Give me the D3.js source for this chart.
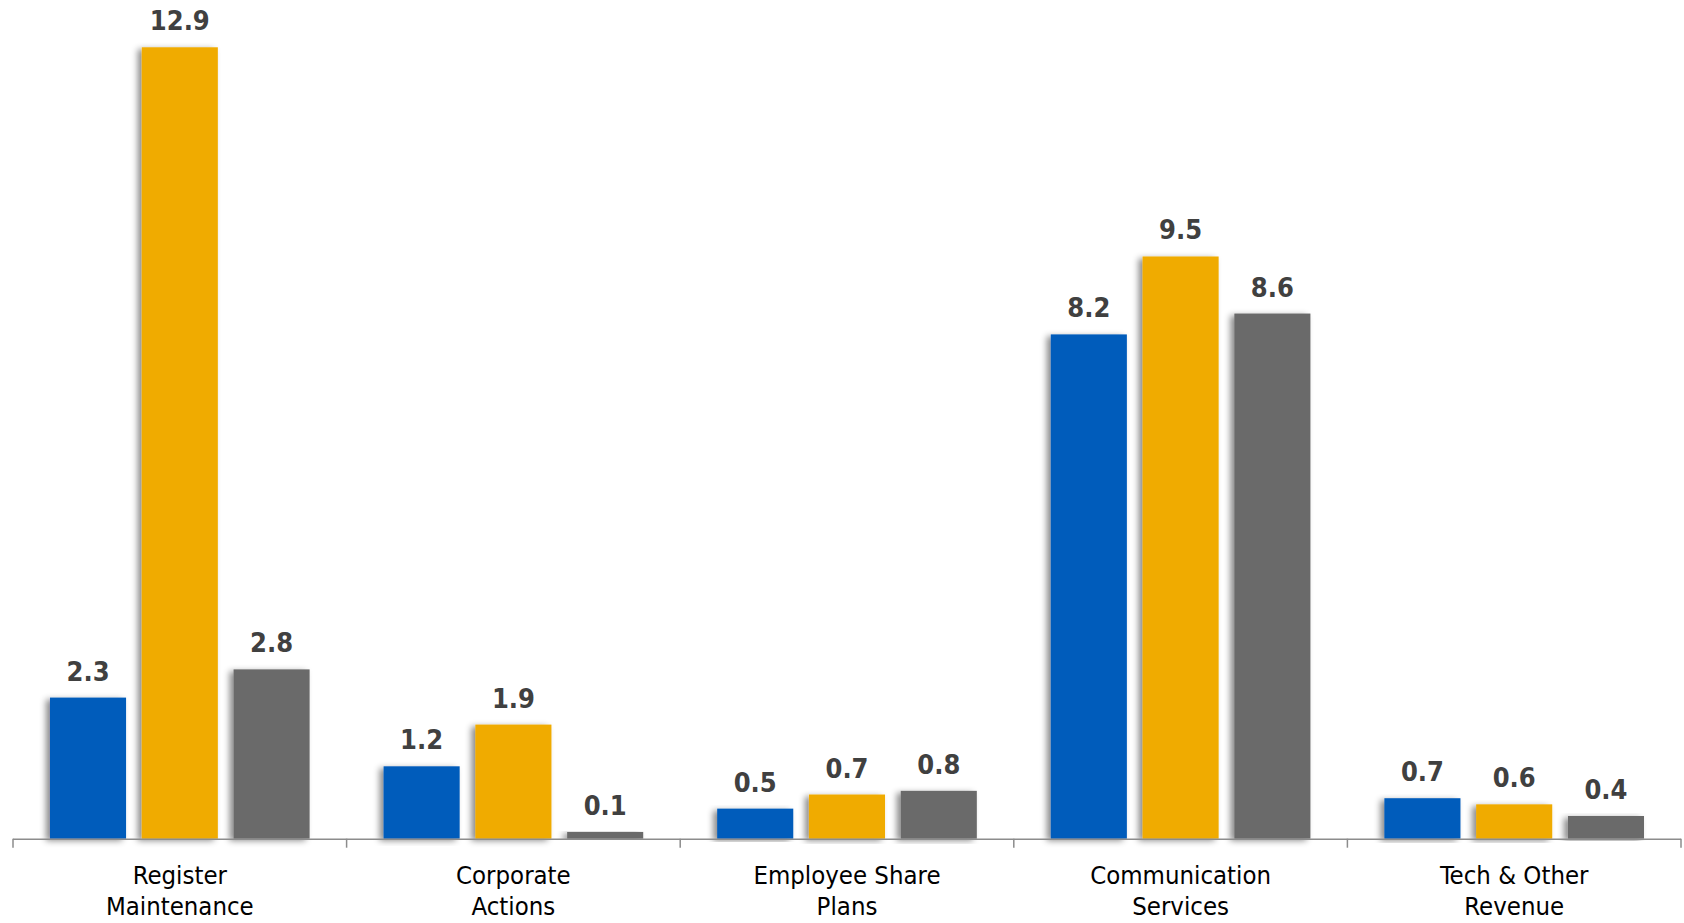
<!DOCTYPE html>
<html>
<head>
<meta charset="utf-8">
<script src="https://cdn.jsdelivr.net/npm/d3@7/dist/d3.min.js"></script>
<style>
  html, body { margin: 0; padding: 0; background: #fff; }
  svg { display: block; }
</style>
</head>
<body>
<svg id="chart" width="1684" height="923"></svg>
<script>
// ---- data ----
const categories = ["Register Maintenance", "Corporate Actions", "Employee Share Plans", "Communication Services", "Tech & Other Revenue"];
const categoryLines = [["Register", "Maintenance"], ["Corporate", "Actions"], ["Employee Share", "Plans"], ["Communication", "Services"], ["Tech & Other", "Revenue"]];
const seriesNames = ["Series A", "Series B", "Series C"];
const seriesA = [2.3, 1.18, 0.49, 8.22, 0.66];
const seriesB = [12.9, 1.86, 0.72, 9.49, 0.56];
const seriesC = [2.76, 0.11, 0.78, 8.56, 0.37];
const seriesColors = ["#005BBB", "#F0AB00", "#6B6B6B"];

const seriesValues = [seriesA, seriesB, seriesC];
const svg = d3.select("#chart");
const fmt = d3.format(".1f");

const left = 13, right = 1681, baseY = 838.7;
const x0 = d3.scaleBand().domain(categories).range([left, right]).paddingInner(0).paddingOuter(0);
const x1 = d3.scaleBand().domain(seriesNames).range([0, x0.bandwidth()]).paddingInner(0.171).paddingOuter(0.403);
const y = d3.scaleLinear().domain([0, 13]).range([baseY, baseY - 13 * 61.35]);

const defs = svg.append("defs");
const f = defs.append("filter").attr("id", "shadow").attr("x", "-30%").attr("y", "-10%").attr("width", "160%").attr("height", "120%");
f.append("feDropShadow").attr("dx", -4).attr("dy", 2).attr("stdDeviation", 3).attr("flood-color", "#000").attr("flood-opacity", 0.45);

const rows = categories.map((c, i) => ({ cat: c, vals: seriesNames.map((s, j) => ({ s, v: seriesValues[j][i], color: seriesColors[j] })) }));

const g = svg.append("g").selectAll("g").data(rows).join("g")
  .attr("transform", d => `translate(${x0(d.cat)},0)`);

g.selectAll("rect").data(d => d.vals).join("rect")
  .attr("x", d => x1(d.s))
  .attr("width", x1.bandwidth())
  .attr("y", d => y(d.v))
  .attr("height", d => y(0) - y(d.v))
  .attr("fill", d => d.color)
  .attr("filter", "url(#shadow)");

g.selectAll("text.val").data(d => d.vals).join("text")
  .attr("class", "val")
  .attr("x", d => x1(d.s) + x1.bandwidth() / 2)
  .attr("y", d => y(d.v) - 17)
  .attr("text-anchor", "middle")
  .attr("font-family", "'DejaVu Sans Condensed', 'DejaVu Sans', sans-serif")
  .attr("font-stretch", "condensed")
  .attr("font-weight", "bold")
  .attr("font-size", 27)
  .attr("fill", "#404040")
  .text(d => fmt(d.v));

// axis
const axis = svg.append("g");
axis.append("line").attr("x1", left).attr("x2", right).attr("y1", baseY + 0.5).attr("y2", baseY + 0.5)
  .attr("stroke", "#8c8c8c").attr("stroke-width", 1.5);
const tickXs = categories.map(c => x0(c)).concat([x0(categories[categories.length - 1]) + x0.bandwidth()]);
axis.selectAll("line.tick").data(tickXs).join("line").attr("class", "tick")
  .attr("x1", d => d).attr("x2", d => d).attr("y1", baseY).attr("y2", baseY + 9)
  .attr("stroke", "#8c8c8c").attr("stroke-width", 1.5);

const labels = axis.selectAll("text.cat").data(categories).join("text").attr("class", "cat")
  .attr("text-anchor", "middle")
  .attr("font-family", "'DejaVu Sans Condensed', 'DejaVu Sans', sans-serif")
  .attr("font-stretch", "condensed")
  .attr("font-size", 25.5)
  .attr("fill", "#000");
labels.each(function (c, i) {
  const t = d3.select(this);
  categoryLines[i].forEach((line, k) => {
    t.append("tspan").attr("x", x0(c) + x0.bandwidth() / 2).attr("y", 883.5 + k * 31.5).text(line);
  });
});
</script>
</body>
</html>
